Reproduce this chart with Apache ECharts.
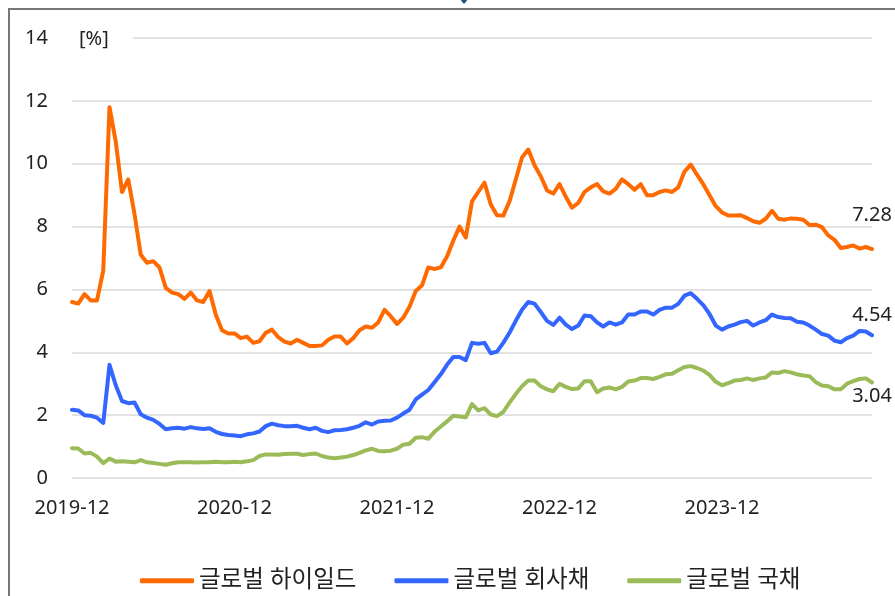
<!DOCTYPE html>
<html lang="ko">
<head>
  <meta charset="UTF-8">
  <title>글로벌 채권 금리</title>
  <style>
    html, body { margin: 0; padding: 0; background: #fff; }
    #chart { width: 895px; height: 596px; }
  </style>
</head>
<body>
  <div id="chart"></div>

  <script src="https://cdn.jsdelivr.net/npm/echarts@6/dist/echarts.min.js"></script>
  <script>
    // biweekly observations, first one in early Dec 2019
    var startDate = '2019-12-06';
    var stepDays = 14;

    var seriesNames = ['글로벌 하이일드', '글로벌 회사채', '글로벌 국채'];
    var seriesColors = ['#ff6a00', '#3366ff', '#9bbb59'];

    var highYield = [
      5.6, 5.55, 5.85, 5.65, 5.65, 6.6, 11.8, 10.7, 9.1, 9.5,
      8.4, 7.1, 6.85, 6.9, 6.7, 6.05, 5.9, 5.85, 5.7, 5.9,
      5.65, 5.6, 5.95, 5.2, 4.7, 4.6, 4.6, 4.45, 4.5, 4.3,
      4.35, 4.62, 4.72, 4.48, 4.34, 4.28, 4.4, 4.3, 4.2, 4.2,
      4.22, 4.4, 4.5, 4.5, 4.28, 4.45, 4.7, 4.82, 4.78, 4.95,
      5.35, 5.15, 4.9, 5.1, 5.45, 5.95, 6.13, 6.7, 6.65, 6.7,
      7.05, 7.55, 8.0, 7.65, 8.8, 9.1, 9.4, 8.7, 8.36, 8.35,
      8.8, 9.5, 10.2, 10.45, 9.95, 9.6, 9.15, 9.05, 9.35, 8.95,
      8.6, 8.75, 9.1, 9.25, 9.35, 9.12, 9.05, 9.2, 9.5, 9.35,
      9.17, 9.35, 9.0, 9.0, 9.1, 9.15, 9.1, 9.25, 9.75, 9.97,
      9.65, 9.35, 9.0, 8.65, 8.45, 8.35, 8.35, 8.36, 8.27, 8.17,
      8.12, 8.25, 8.5, 8.25, 8.22, 8.26, 8.25, 8.22, 8.05, 8.06,
      7.98, 7.72, 7.58, 7.32, 7.35, 7.4, 7.3, 7.35, 7.28
    ];

    var corporate = [
      2.17, 2.15, 2.0, 1.98, 1.92, 1.75, 3.6, 2.95, 2.45, 2.38,
      2.4, 2.03, 1.92, 1.85, 1.72, 1.55, 1.58, 1.6, 1.57, 1.62,
      1.58, 1.56, 1.58, 1.47, 1.4, 1.37, 1.35, 1.33, 1.39, 1.42,
      1.48, 1.65, 1.73, 1.68, 1.65, 1.65, 1.66, 1.6, 1.55, 1.6,
      1.5, 1.46, 1.52, 1.53, 1.55, 1.6, 1.66, 1.77, 1.7, 1.8,
      1.82, 1.83, 1.92, 2.05, 2.17, 2.5, 2.65, 2.8, 3.05, 3.3,
      3.6, 3.85, 3.85, 3.75, 4.3, 4.27, 4.3, 3.97, 4.02, 4.3,
      4.62, 5.0, 5.35, 5.6, 5.55, 5.28, 5.0, 4.87, 5.1, 4.88,
      4.74, 4.85, 5.17, 5.15, 4.95, 4.82, 4.95, 4.88, 4.95, 5.2,
      5.2, 5.3, 5.3, 5.2, 5.35, 5.42, 5.42, 5.54, 5.8, 5.88,
      5.7, 5.5, 5.22, 4.85, 4.72, 4.82, 4.88, 4.96, 5.0, 4.85,
      4.95, 5.02, 5.2, 5.12, 5.09, 5.08, 4.97, 4.95, 4.85, 4.72,
      4.58, 4.53, 4.37, 4.32, 4.45, 4.53, 4.68, 4.66, 4.54
    ];

    var government = [
      0.95, 0.94, 0.78, 0.8, 0.68, 0.47, 0.62, 0.52, 0.53, 0.52,
      0.5, 0.57, 0.5, 0.48, 0.45, 0.42, 0.47, 0.5, 0.5, 0.5,
      0.49, 0.5, 0.5, 0.52, 0.5, 0.5, 0.52, 0.5, 0.53, 0.57,
      0.7, 0.75, 0.75, 0.74, 0.76, 0.77, 0.77, 0.73, 0.76, 0.78,
      0.7, 0.65, 0.63, 0.65, 0.68, 0.73, 0.8, 0.88, 0.93, 0.86,
      0.85, 0.87, 0.93, 1.06, 1.09, 1.28, 1.3, 1.25, 1.47, 1.64,
      1.8, 1.98, 1.96, 1.93, 2.35, 2.15, 2.22, 2.02, 1.97, 2.1,
      2.4, 2.67, 2.92, 3.1, 3.1, 2.92, 2.82, 2.76, 3.0, 2.9,
      2.83, 2.85, 3.08, 3.08, 2.73, 2.85, 2.88, 2.82, 2.9, 3.07,
      3.1, 3.18, 3.18, 3.15, 3.22, 3.3, 3.32, 3.43, 3.53, 3.56,
      3.5, 3.42, 3.28, 3.06, 2.95, 3.02, 3.1, 3.12, 3.17, 3.12,
      3.17, 3.2, 3.36, 3.34, 3.4, 3.36, 3.3, 3.26, 3.24, 3.05,
      2.94, 2.92, 2.82, 2.82, 3.0, 3.08, 3.15, 3.17, 3.04
    ];

    // where the end-of-line value labels sit relative to the last point
    var endLabelPos = [
      { position: 'top', distance: 24 },
      { position: 'top', distance: 10 },
      { position: 'bottom', distance: 4 }
    ];

    // category labels: one date per observation
    var dates = [];
    var d0 = new Date(startDate + 'T00:00:00Z');
    for (var i = 0; i < highYield.length; i++) {
      var d = new Date(d0.getTime() + i * stepDays * 86400000);
      dates.push(d.toISOString().slice(0, 10));
    }

    var font = '"Noto Sans", "Noto Sans CJK KR", sans-serif';
    var textColor = '#222';

    function makeSeries(idx, values) {
      var last = values.length - 1;
      return {
        name: seriesNames[idx],
        type: 'line',
        data: values,
        symbol: 'none',
        smooth: false,
        lineStyle: { color: seriesColors[idx], width: 4, cap: 'round', join: 'round' },
        itemStyle: { color: seriesColors[idx] },
        markPoint: {
          symbol: 'circle',
          symbolSize: 0,
          silent: true,
          data: [{ coord: [last, values[last]], value: values[last] }],
          label: {
            show: true,
            position: endLabelPos[idx].position,
            distance: endLabelPos[idx].distance,
            formatter: function (p) { return p.value.toFixed(2); },
            color: textColor,
            fontFamily: font,
            fontSize: 20
          }
        }
      };
    }

    var chart = echarts.init(document.getElementById('chart'));

    var option = {
      animation: false,
      textStyle: { fontFamily: font },
      grid: { left: 72, right: 23, top: 38, bottom: 118, containLabel: false },
      legend: {
        data: seriesNames,
        left: 135,
        top: 564,
        icon: 'roundRect',
        itemWidth: 54,
        itemHeight: 5,
        itemGap: 38,
        textStyle: { color: textColor, fontSize: 23.5, fontFamily: font }
      },
      xAxis: {
        type: 'category',
        data: dates,
        boundaryGap: false,
        axisLine: { show: false },
        axisTick: { show: false },
        splitLine: { show: false },
        axisLabel: {
          interval: function (idx) { return idx % 26 === 0; },
          formatter: function (v) { return v.slice(0, 7); },
          color: textColor,
          fontSize: 20,
          margin: 20
        }
      },
      yAxis: {
        type: 'value',
        min: 0,
        max: 14,
        interval: 2,
        axisLine: { show: false },
        axisTick: { show: false },
        axisLabel: { color: textColor, fontSize: 20, margin: 24 },
        splitLine: { lineStyle: { color: '#d9d9d9', width: 1.5 } }
      },
      graphic: [
        {
          type: 'rect',
          z: 100,
          shape: { x: 9, y: 9, width: 910, height: 610 },
          style: { fill: 'none', stroke: '#777', lineWidth: 2 }
        },
        {
          type: 'polygon',
          z: 100,
          shape: { points: [[459, -2], [464, -7], [469, -2], [464, 4]] },
          style: { fill: '#1f4e79' }
        },
        {
          type: 'rect',
          z: 100,
          shape: { x: 72, y: 33, width: 61, height: 10 },
          style: { fill: '#fff' }
        },
        {
          type: 'text',
          z: 101,
          left: 79,
          top: 29,
          style: { text: '[%]', fill: textColor, font: '20px ' + font }
        }
      ],
      series: [
        makeSeries(0, highYield),
        makeSeries(1, corporate),
        makeSeries(2, government)
      ]
    };

    chart.setOption(option);
  </script>
</body>
</html>
